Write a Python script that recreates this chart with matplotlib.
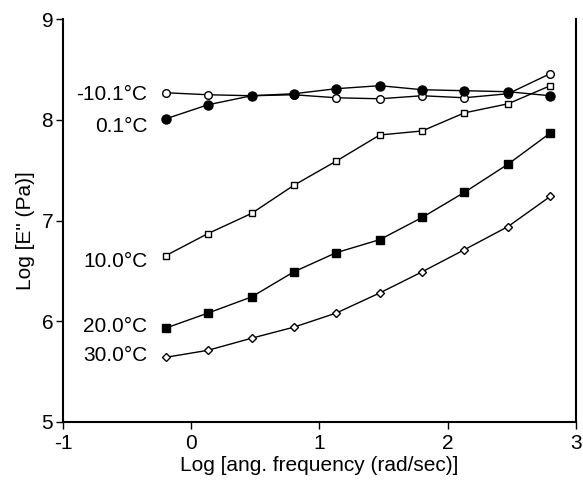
import matplotlib
matplotlib.use('Agg')
import matplotlib.pyplot as plt

plt.rcParams['font.family'] = ['Liberation Sans', 'DejaVu Sans']
plt.rcParams['axes.unicode_minus'] = False

# log angular frequency (rad/sec)
log_freq = [-0.2, 0.13, 0.47, 0.8, 1.13, 1.47, 1.8, 2.13, 2.47, 2.8]

# log E'' (Pa) at each temperature
e_m10 = [8.27, 8.25, 8.24, 8.25, 8.22, 8.21, 8.24, 8.22, 8.26, 8.46]
e_0 = [8.01, 8.15, 8.24, 8.26, 8.31, 8.34, 8.30, 8.29, 8.28, 8.24]
e_10 = [6.65, 6.87, 7.07, 7.35, 7.59, 7.85, 7.89, 8.07, 8.16, 8.34]
e_20 = [5.93, 6.08, 6.24, 6.49, 6.68, 6.81, 7.03, 7.28, 7.56, 7.87]
e_30 = [5.64, 5.71, 5.83, 5.94, 6.08, 6.28, 6.49, 6.71, 6.94, 7.24]

labels = ['-10.1\u00b0C', '0.1\u00b0C', '10.0\u00b0C', '20.0\u00b0C', '30.0\u00b0C']
label_y = [8.255, 7.93, 6.59, 5.944, 5.663]

series = [e_m10, e_0, e_10, e_20, e_30]
styles = [('o', 'white', 5.5), ('o', 'black', 6.5), ('s', 'white', 5),
          ('s', 'black', 5.5), ('D', 'white', 4.5)]

fig = plt.figure(figsize=(5.83, 4.82), dpi=100)
ax = fig.add_axes([0.108, 0.125, 0.880, 0.835])

for vals, (mk, fc, ms) in zip(series, styles):
    ax.plot(log_freq, vals, color='black', linewidth=1, marker=mk,
            markerfacecolor=fc, markeredgecolor='black', markersize=ms,
            markeredgewidth=1)

for lab, ly in zip(labels, label_y):
    ax.text(-0.34, ly, lab, ha='right', va='center', fontsize=15)

ax.set_xlim(-1, 3)
ax.set_ylim(5, 9)
ax.set_xticks([-1, 0, 1, 2, 3])
ax.set_yticks([5, 6, 7, 8, 9])
ax.tick_params(labelsize=15, length=5, width=1, direction='out', pad=2)
ax.tick_params(axis='x', pad=4)
ax.spines['top'].set_visible(False)
for s in ['left', 'bottom', 'right']:
    ax.spines[s].set_linewidth(1.5)
ax.set_xlabel('Log [ang. frequency (rad/sec)]', fontsize=15, labelpad=2)
ax.set_ylabel('Log [E" (Pa)]', fontsize=15)
ax.yaxis.set_label_coords(-0.055, 0.474)

fig.savefig('out.png', dpi=100)
